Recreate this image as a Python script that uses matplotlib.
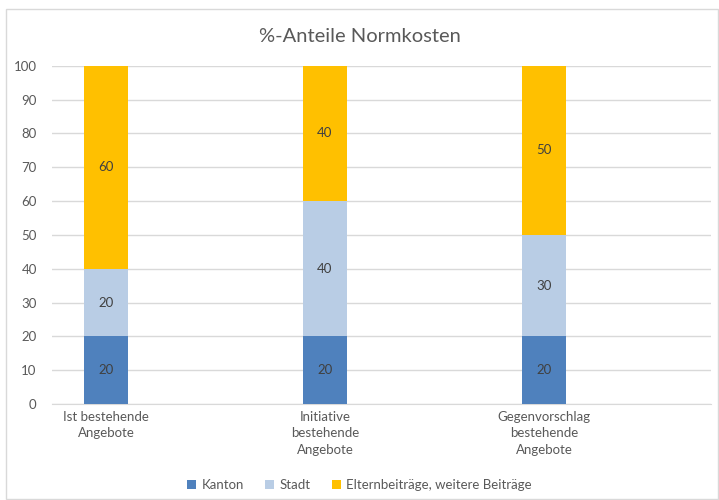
import matplotlib.pyplot as plt
from matplotlib.patches import Rectangle

# Anteile an den Normkosten in Prozent
categories = ["Ist bestehende\nAngebote",
              "Initiative\nbestehende\nAngebote",
              "Gegenvorschlag\nbestehende\nAngebote"]
kanton = [20, 20, 20]
stadt = [20, 40, 30]
eltern = [60, 40, 50]
series_names = ["Kanton", "Stadt", "Elternbeiträge, weitere Beiträge"]
colors = ["#4F81BD", "#B9CDE5", "#FFC000"]

plt.rcParams['font.family'] = ['Lato', 'DejaVu Sans']

fig = plt.figure(figsize=(7.19, 5.0), dpi=100)
fig.patches.append(Rectangle((0.008, 0.003), 0.99, 0.98, transform=fig.transFigure,
                             fill=False, edgecolor="#D9D9D9", linewidth=1))
ax = fig.add_axes([52 / 719, 96 / 500, 659 / 719, 338.3 / 500])

x = list(range(len(categories)))
width = 0.2
bottom = [0] * len(categories)
for values, name, col in zip([kanton, stadt, eltern], series_names, colors):
    bars = ax.bar(x, values, width, bottom=bottom, color=col, label=name, zorder=3)
    for b, v, b0 in zip(bars, values, bottom):
        ax.text(b.get_x() + b.get_width() / 2, b0 + v / 2, str(v),
                ha="center", va="center", fontsize=9.5, color="#404040", zorder=4)
    bottom = [a + v for a, v in zip(bottom, values)]

ax.set_xlim(-54 / 219, (711 - 106) / 219)
ax.set_ylim(0, 100)
ax.set_yticks(range(0, 101, 10))
ax.yaxis.grid(True, color="#D9D9D9", linewidth=1, zorder=0)
ax.set_xticks(x)
ax.set_xticklabels(categories, fontsize=9.5, color="#595959", linespacing=1.45)
ax.tick_params(axis="y", labelsize=9.5, labelcolor="#595959", length=0, pad=11)
ax.tick_params(axis="x", length=0, pad=5)
for s in ["top", "right", "left"]:
    ax.spines[s].set_visible(False)
ax.spines["bottom"].set_color("#D9D9D9")

fig.text(0.5, 0.928, "%-Anteile Normkosten", ha="center", va="center",
         fontsize=14.5, color="#595959")

fig.legend(loc="center", bbox_to_anchor=(0.5, 0.03), ncol=3, frameon=False,
           fontsize=9.5, labelcolor="#595959", handlelength=0.7, handleheight=0.7,
           handletextpad=0.4, columnspacing=1.6)

fig.savefig("out.png", dpi=100)
